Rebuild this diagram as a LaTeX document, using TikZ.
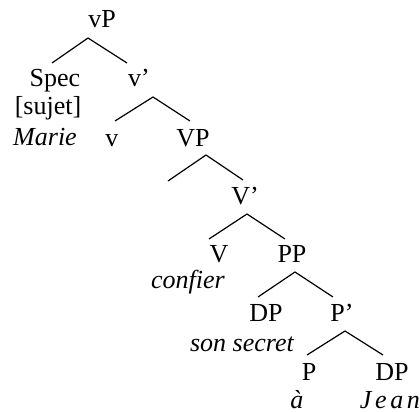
\documentclass[tikz,border=0pt]{standalone}
\usepackage{fontspec}
\setmainfont{Liberation Serif}
\begin{document}
\begin{tikzpicture}[x=0.5pt, y=-0.5pt,
        lab/.style={anchor=base, inner sep=0pt, font=\fontsize{13}{15}\selectfont},
        word/.style={lab, font=\fontsize{13}{15}\selectfont\itshape},
        branch/.style={line width=0.6pt}]
    \useasboundingbox (0,0) rectangle (420,412);

        % labels, placed on their baselines
        \node[lab]  (vP)     at (102,  28) {vP};
        \node[lab]  (Spec)   at ( 55,  87) {Spec};
        \node[lab]  (sujet)  at ( 48, 115) {[sujet]};
        \node[word] (Marie)  at ( 45, 146) {Marie};
        \node[lab]  (vbar)   at (139,  87) {v'};
        \node[lab]  (v)      at (112, 147) {v};
        \node[lab]  (VP)     at (193, 147) {VP};
        \node[lab]  (Vbar)   at (245, 205) {V'};
        \node[lab]  (V)      at (219, 263) {V};
        \node[word] (confier) at (188, 289) {confier};
        \node[lab]  (PP)     at (292, 263) {PP};
        \node[lab]  (DPa)    at (266, 322) {DP};
        \node[word] (secret) at (242, 352) {son secret};
        \node[lab]  (Pbar)   at (342, 322) {P'};
        \node[lab]  (P)      at (309, 381) {P};
        \node[word] (a)      at (297, 409) {à};
        \node[lab]  (DPb)    at (392, 381) {DP};
        \node[word] (Jean)   at (390, 409) {\addfontfeature{LetterSpace=14}Jean};

        % branching points
        \coordinate (vPa)   at ( 88,  38);
        \coordinate (Specb) at ( 52,  63);
        \coordinate (vbarb) at (127,  63);
        \coordinate (vbara) at (153,  97);
        \coordinate (vb)    at (115, 121);
        \coordinate (VPb)   at (190, 121);
        \coordinate (VPa)   at (206, 155);
        \coordinate (VPl)   at (168, 181);
        \coordinate (Vbarb) at (243, 180);
        \coordinate (Vbara) at (247, 214);
        \coordinate (Vb)    at (209, 239);
        \coordinate (PPb)   at (285, 239);
        \coordinate (PPa)   at (295, 272);
        \coordinate (DPab)  at (258, 297);
        \coordinate (Pbarb) at (333, 297);
        \coordinate (Pbara) at (345, 331);
        \coordinate (Pb)    at (307, 355);
        \coordinate (DPbb)  at (383, 355);

        \draw[branch] (Specb) -- (vPa)   -- (vbarb);
        \draw[branch] (vb)    -- (vbara) -- (VPb);
        \draw[branch] (VPl)   -- (VPa)   -- (Vbarb);
        \draw[branch] (Vb)    -- (Vbara) -- (PPb);
        \draw[branch] (DPab)  -- (PPa)   -- (Pbarb);
        \draw[branch] (Pb)    -- (Pbara) -- (DPbb);
    \end{tikzpicture}
\end{document}
